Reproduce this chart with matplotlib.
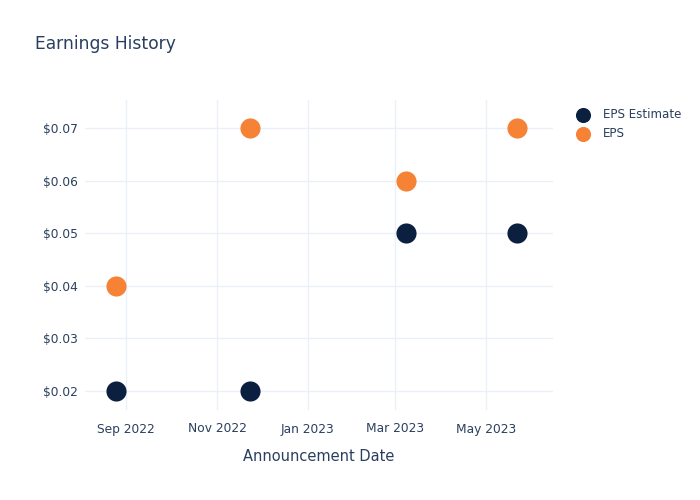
import numpy as np
import matplotlib.pyplot as plt
import matplotlib.ticker as mticker

dates = np.array(['2022-08-25', '2022-11-23', '2023-03-08', '2023-05-22'], dtype='datetime64[D]')
eps_estimate = [0.02, 0.02, 0.05, 0.05]
eps_actual = [0.04, 0.07, 0.06, 0.07]
tick_dates = np.array(['2022-09-01', '2022-11-01', '2023-01-01', '2023-03-01', '2023-05-01'], dtype='datetime64[D]')
tick_labels = ['Sep 2022', 'Nov 2022', 'Jan 2023', 'Mar 2023', 'May 2023']

text_color = '#2a3f5f'
grid_color = '#ebf0f8'

fig = plt.figure(figsize=(7, 5), dpi=100)
ax = fig.add_axes([0.121, 0.18, 0.669, 0.62])

ax.scatter(dates, eps_estimate, s=210, color='#0b1f3f', label='EPS Estimate', zorder=3, linewidths=0)
ax.scatter(dates, eps_actual, s=210, color='#f58235', label='EPS', zorder=3, linewidths=0)

ax.set_xlim(np.datetime64('2022-08-04'), np.datetime64('2023-06-15'))
ax.set_ylim(0.0164, 0.0753)
ax.set_xticks(tick_dates)
ax.set_xticklabels(tick_labels)
ax.set_yticks([0.02, 0.03, 0.04, 0.05, 0.06, 0.07])
ax.yaxis.set_major_formatter(mticker.FuncFormatter(lambda v, p: f'${v:.2f}'))

ax.grid(True, color=grid_color, linewidth=1)
ax.set_axisbelow(True)
for s in ax.spines.values():
    s.set_visible(False)
ax.tick_params(length=0, labelsize=8.8, colors=text_color)
ax.tick_params(axis='y', pad=5)
ax.tick_params(axis='x', pad=9)

ax.set_xlabel('Announcement Date', fontsize=10.5, color=text_color, labelpad=10)
fig.text(0.05, 0.912, 'Earnings History', fontsize=12.3, color=text_color, va='center')

ax.legend(loc='upper left', bbox_to_anchor=(1.028, 0.99), frameon=False, fontsize=8.6,
          labelcolor=text_color, markerscale=0.75, handletextpad=0.7, labelspacing=0.5,
          borderaxespad=0.0)

fig.savefig('out.png', dpi=100)
